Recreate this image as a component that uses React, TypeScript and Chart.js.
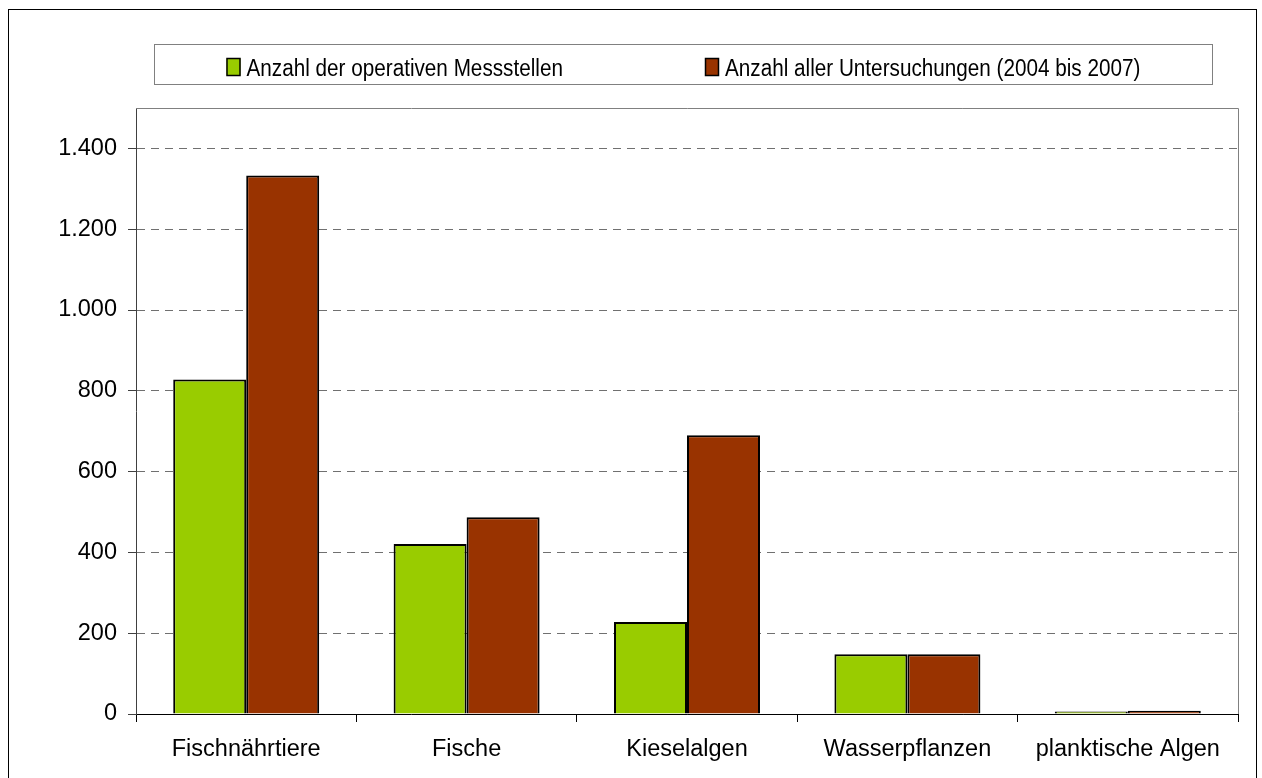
import React, { useEffect, useRef } from "react";
import { Chart, registerables } from "chart.js";

Chart.register(...registerables);

const categories = ["Fischnährtiere", "Fische", "Kieselalgen", "Wasserpflanzen", "planktische Algen"];
const messstellen = [828, 421, 228, 148, 6];
const untersuchungen = [1333, 487, 690, 148, 8];
const seriesLabels = ["Anzahl der operativen Messstellen", "Anzahl aller Untersuchungen (2004 bis 2007)"];
const yTickValues = [0, 200, 400, 600, 800, 1000, 1200, 1400];

const FONT = '"Liberation Sans", Arial, sans-serif';

function formatDe(v: number): string {
  const s = Math.round(v).toString();
  return s.replace(/\B(?=(\d{3})+(?!\d))/g, ".");
}

const plotBox = {
  id: "plotBox",
  afterDraw(chart: any) {
    const { ctx, chartArea } = chart;
    ctx.save();
    ctx.strokeStyle = "#808080";
    ctx.lineWidth = 1;
    ctx.beginPath();
    ctx.moveTo(chartArea.left, Math.floor(chartArea.top) + 0.5);
    ctx.lineTo(Math.floor(chartArea.right) + 0.5, Math.floor(chartArea.top) + 0.5);
    ctx.lineTo(Math.floor(chartArea.right) + 0.5, chartArea.bottom);
    ctx.stroke();
    ctx.restore();
  },
};

const boxLegend = {
  id: "boxLegend",
  afterDraw(chart: any) {
    const { ctx } = chart;
    const ds = chart.data.datasets;
    ctx.save();
    ctx.strokeStyle = "#808080";
    ctx.lineWidth = 1;
    ctx.strokeRect(145.5, 34.5, 1058, 40);
    const itemX = [217.5, 696];
    const sx = 0.9;
    ctx.font = `23px ${FONT}`;
    ctx.textBaseline = "alphabetic";
    ctx.textAlign = "left";
    ds.forEach((d: any, i: number) => {
      const x = itemX[i];
      ctx.fillStyle = d.backgroundColor;
      ctx.fillRect(x, 48.5, 14, 17);
      ctx.strokeStyle = "#000";
      ctx.lineWidth = 1.5;
      ctx.strokeRect(x + 0.5, 48.5, 13, 17);
      ctx.save();
      ctx.translate(x + 20, 66);
      ctx.scale(sx, 1);
      ctx.fillStyle = "#000";
      ctx.fillText(d.label, 0, 0);
      ctx.restore();
    });
    ctx.restore();
  },
};

export default function App() {
  const ref = useRef<HTMLCanvasElement | null>(null);

  useEffect(() => {
    if (!ref.current) return;
    const chart = new Chart(ref.current, {
      type: "bar",
      data: {
        labels: categories,
        datasets: [
          {
            label: seriesLabels[0],
            data: messstellen,
            backgroundColor: "#99CC00",
            borderColor: "#000000",
            borderWidth: 2,
            categoryPercentage: 0.6624,
            barPercentage: 1,
          },
          {
            label: seriesLabels[1],
            data: untersuchungen,
            backgroundColor: "#993300",
            borderColor: "#000000",
            borderWidth: 2,
            categoryPercentage: 0.6624,
            barPercentage: 1,
          },
        ],
      },
      options: {
        animation: false,
        responsive: false,
        devicePixelRatio: 1,
        layout: { padding: { top: 98, right: 18, left: 0, bottom: 0 } },
        plugins: {
          legend: { display: false },
          tooltip: { enabled: false },
          title: { display: false },
        },
        scales: {
          x: {
            offset: true,
            grid: {
              display: true,
              offset: true,
              drawOnChartArea: false,
              drawTicks: true,
              tickLength: 8,
              tickColor: "#000000",
              color: "#000000",
            },
            border: { display: true, color: "#000000", width: 1 },
            ticks: {
              color: "#000000",
              font: { family: FONT, size: 23.5 },
              padding: 13,
              maxRotation: 0,
              autoSkip: false,
            },
            afterFit(scale: any) {
              scale.height = 94;
            },
          },
          y: {
            min: 0,
            max: 1500,
            afterBuildTicks(axis: any) {
              axis.ticks = yTickValues.map((v) => ({ value: v }));
            },
            grid: {
              display: true,
              color: "#707070",
              lineWidth: 1,
              drawTicks: true,
              tickLength: 8,
              tickColor: "#404040",
              tickBorderDash: [],
            },
            border: { display: true, color: "#404040", width: 1, dash: [8, 6] },
            ticks: {
              color: "#000000",
              font: { family: FONT, size: 23.5 },
              padding: 11,
              callback: (v: any) => formatDe(Number(v)),
            },
            afterFit(scale: any) {
              scale.width = 127;
            },
          },
        },
      },
      plugins: [plotBox, boxLegend],
    });
    return () => chart.destroy();
  }, []);

  return (
    <div
      style={{
        position: "fixed",
        left: 8,
        top: 9,
        width: 1249,
        height: 800,
        border: "1px solid #000",
        boxSizing: "border-box",
        background: "#fff",
      }}
    >
      <canvas ref={ref} width={1247} height={798} style={{ display: "block" }} />
    </div>
  );
}
